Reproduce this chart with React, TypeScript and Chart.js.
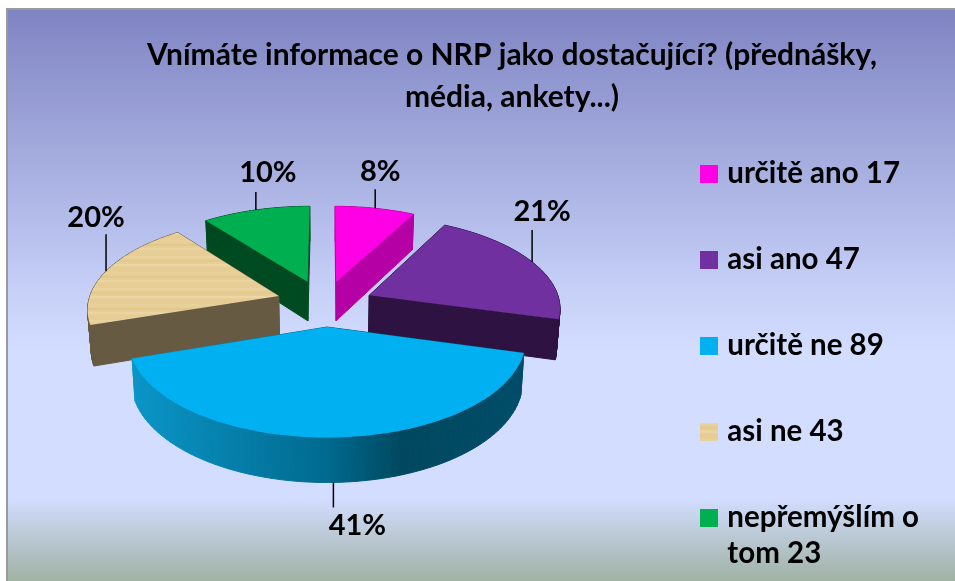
import React, { useEffect, useRef } from "react";
import { Chart, registerables } from "chart.js";

Chart.register(...registerables);

// The empty second line gives each legend entry the reference's row height.
const legendLabels: string[][] = [["určitě ano 17", ""], ["asi ano 47", ""], ["určitě ne 89", ""], ["asi ne 43", ""], ["nepřemýšlím o", "tom 23"]];
const values = [17, 47, 89, 43, 23];
const percentLabels = ["8%", "21%", "41%", "20%", "10%"];
const titleLines = ["Vnímáte informace o NRP jako dostačující? (přednášky,", "média, ankety...)"];

const topColors = ["#FF00E6", "#7030A0", "#00B0F0", "#E6CE96", "#00B050"];
const sideColors = ["#B400A4", "#2E1342", "#0088BB", "#665A42", "#004A21"];

// exploded shift of each slice, in pie radii (x, y of the pie plane)
const shiftU = [0.05, 0.224, 0, -0.256, -0.105];
const shiftV = [-0.5, -0.345, 0, -0.337, -0.5];
// leader length and label offset from the leader's outer end
const leaderLen = [19, 32, 25, 37, 18];
const labelDx = [5, 10, 24, -10, 12];
const labelDy = [-18, -18, 18, -17, -19];
const drawOrder = [0, 4, 1, 3, 2];

const CX = 327, CY = 327, RADIUS = 197, SQUASH = 0.488, PERSP = 0.13;

function woodPattern(ctx: CanvasRenderingContext2D) {
  const c = document.createElement("canvas");
  c.width = 64; c.height = 32;
  const g = c.getContext("2d")!;
  g.fillStyle = "#E6CE96"; g.fillRect(0, 0, 64, 32);
  const streaks = ["#E9D3A0", "#E3C98C", "#EAD6A6", "#E4CC92", "#E8D09A", "#E1C789", "#E9D4A3", "#E5CD94"];
  streaks.forEach((col, i) => { g.fillStyle = col; g.fillRect(0, i * 4, 64, 2); });
  return ctx.createPattern(c, "repeat")!;
}

function swatch(fill: any) {
  const c = document.createElement("canvas");
  c.width = 18; c.height = 18;
  const g = c.getContext("2d")!;
  g.fillStyle = fill; g.fillRect(0, 0, 18, 18);
  return c;
}

function project(u: number, v: number) {
  const d = 1 - PERSP * v;
  return { x: CX + (RADIUS * u) / d, y: CY + (RADIUS * SQUASH * v) / d };
}
function drop(p: { x: number; y: number }, v: number) {
  return { x: CX + (p.x - CX) * 0.985, y: p.y + 41 + 4 * v };
}

const piePlugin = {
  id: "pie3d",
  beforeDraw(chart: any) {
    const { ctx, width, height } = chart;
    ctx.save();
    ctx.fillStyle = "#FFFFFF"; ctx.fillRect(0, 0, width, height);
    const g = ctx.createLinearGradient(0, 9, 0, height);
    g.addColorStop(0, "#7F84C2");
    g.addColorStop(0.5, "#C7D1F8");
    g.addColorStop(0.6, "#D3DDFF");
    g.addColorStop(0.855, "#D3DDFF");
    g.addColorStop(1, "#9FB2A4");
    ctx.fillStyle = g;
    ctx.fillRect(7, 9, width - 7, height - 9);
    ctx.fillStyle = "#999999";
    ctx.fillRect(6, 8, width - 6, 2);
    ctx.fillRect(6, 8, 2, height - 8);
    ctx.restore();
  },
  beforeDatasetsDraw(chart: any) {
    const { ctx } = chart;
    const arcs = chart.getDatasetMeta(0).data;
    ctx.save();
    const blueSide = ctx.createLinearGradient(130, 0, 524, 0);
    blueSide.addColorStop(0, "#0A96C8");
    blueSide.addColorStop(0.5, "#006A8F");
    blueSide.addColorStop(0.69, "#00485F");
    blueSide.addColorStop(1, "#004C68");
    drawOrder.forEach((i) => {
      const el = arcs[i];
      const steps = 72;
      const pts: { u: number; v: number }[] = [{ u: shiftU[i], v: shiftV[i] }];
      for (let s = 0; s <= steps; s++) {
        const a = el.startAngle + ((el.endAngle - el.startAngle) * s) / steps;
        pts.push({ u: shiftU[i] + Math.cos(a), v: shiftV[i] + Math.sin(a) });
      }
      const top = pts.map((p) => project(p.u, p.v));
      const bot = top.map((p, n) => drop(p, pts[n].v));
      const side = i === 2 ? blueSide : sideColors[i];
      ctx.fillStyle = side; ctx.strokeStyle = side; ctx.lineWidth = 1;
      for (let n = 0; n < top.length; n++) {
        const m = (n + 1) % top.length;
        ctx.beginPath();
        ctx.moveTo(top[n].x, top[n].y); ctx.lineTo(top[m].x, top[m].y);
        ctx.lineTo(bot[m].x, bot[m].y); ctx.lineTo(bot[n].x, bot[n].y);
        ctx.closePath(); ctx.fill(); ctx.stroke();
      }
      ctx.beginPath();
      top.forEach((p, n) => (n ? ctx.lineTo(p.x, p.y) : ctx.moveTo(p.x, p.y)));
      ctx.closePath();
      ctx.fillStyle = el.options.backgroundColor;
      ctx.fill();
    });
    // leaders and percent labels
    ctx.font = "bold 29px Lato";
    ctx.textAlign = "center";
    ctx.textBaseline = "middle";
    arcs.forEach((el: any, i: number) => {
      const mid = (el.startAngle + el.endAngle) / 2;
      const u = shiftU[i] + Math.cos(mid), v = shiftV[i] + Math.sin(mid);
      let p = project(u, v);
      const down = v > 0.5;
      if (down) p = drop(p, v);
      const endY = p.y + (down ? leaderLen[i] : -leaderLen[i]);
      ctx.strokeStyle = "#000000"; ctx.lineWidth = 1.5;
      ctx.beginPath(); ctx.moveTo(p.x, p.y); ctx.lineTo(p.x, endY); ctx.stroke();
      ctx.fillStyle = "#000000";
      ctx.fillText(percentLabels[i], p.x + labelDx[i], endY + labelDy[i]);
    });
    ctx.restore();
    return false;
  },
};

export default function App() {
  const ref = useRef<HTMLCanvasElement>(null);
  useEffect(() => {
    const canvas = ref.current!;
    const ctx = canvas.getContext("2d")!;
    const colors: any[] = topColors.slice();
    colors[3] = woodPattern(ctx);
    const chart = new Chart(canvas, {
      type: "pie",
      data: {
        labels: legendLabels as any,
        datasets: [{ data: values, backgroundColor: colors, borderWidth: 0, radius: RADIUS } as any],
      },
      options: {
        responsive: false,
        animation: false,
        layout: { padding: { left: 95, top: 0, right: 26, bottom: -8 } },
        plugins: {
          tooltip: { enabled: false },
          title: {
            display: true,
            text: titleLines,
            color: "#000000",
            font: { family: "Lato", size: 30, weight: "bold", lineHeight: 1.38 },
            padding: { top: 35, bottom: 36 },
          },
          legend: {
            position: "right",
            align: "end",
            labels: {
              color: "#000000",
              font: { family: "Lato", size: 29.5, weight: "bold", lineHeight: 1.22 },
              usePointStyle: true,
              boxWidth: 7,
              boxHeight: 18,
              padding: 14,
              generateLabels: () =>
                legendLabels.map((text, i) => ({
                  text,
                  fillStyle: colors[i],
                  strokeStyle: colors[i],
                  lineWidth: 0,
                  hidden: false,
                  index: i,
                  pointStyle: swatch(colors[i]),
                })) as any,
            },
          },
        },
      },
      plugins: [piePlugin as any],
    });
    return () => chart.destroy();
  }, []);
  return (
    <div style={{ position: "fixed", left: 0, top: 0, width: 955, height: 581, overflow: "hidden" }}>
      <canvas ref={ref} width={955} height={581} style={{ display: "block" }} />
    </div>
  );
}
